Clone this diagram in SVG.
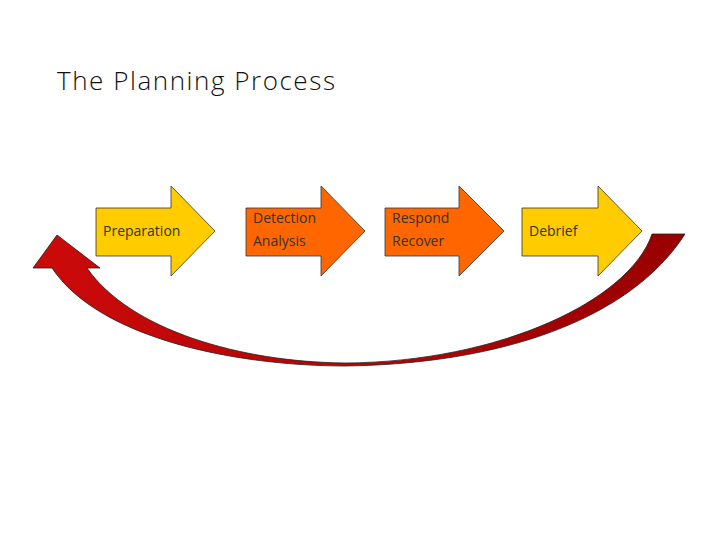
<svg xmlns="http://www.w3.org/2000/svg" width="720" height="540" viewBox="0 0 720 540">
<style>
.t{font-family:"Open Sans","DejaVu Sans",sans-serif;font-size:14px;fill:#333}
.a{stroke:#333;stroke-width:0.8}
</style>
<defs>
<linearGradient id="g" x1="0" x2="1" y1="0" y2="0">
<stop offset="0" stop-color="#cc0a0a"/><stop offset="1" stop-color="#990000"/>
</linearGradient>
</defs>
<rect width="720" height="540" fill="#fff"/>
<text x="57" y="90" textLength="278" style="font-family:'Open Sans','DejaVu Sans',sans-serif;font-size:26px;font-weight:300;fill:#111">The Planning Process</text>
<g id="connectors">
<path d="M52,268 C100,340 240,366 345,366 C500,364 630,320 685,234 L652,234 C630,300 500,362 345,363 C240,362 130,330 87,268 L100,268 L57,235 L33,268 Z" fill="url(#g)" stroke="#222" stroke-width="0.8"/>
</g>
<g id="preparation">
<path class="a" d="M96,208 H171 V186 L215,231 L171,276 V256 H96 Z" fill="#ffcc00"/>
<text class="t" x="103" y="236">Preparation</text>
</g>
<g id="detection">
<path class="a" d="M246,208 H321 V186 L365,231 L321,276 V256 H246 Z" fill="#ff6600"/>
<text class="t" x="253" y="223">Detection</text>
<text class="t" x="253" y="246">Analysis</text>
</g>
<g id="respond">
<path class="a" d="M385,208 H459 V186 L504,231 L459,276 V256 H385 Z" fill="#ff6600"/>
<text class="t" x="392" y="223">Respond</text>
<text class="t" x="392" y="246">Recover</text>
</g>
<g id="debrief">
<path class="a" d="M522,208 H598 V186 L642,231 L598,276 V256 H522 Z" fill="#ffcc00"/>
<text class="t" x="529" y="236">Debrief</text>
</g>
</svg>
